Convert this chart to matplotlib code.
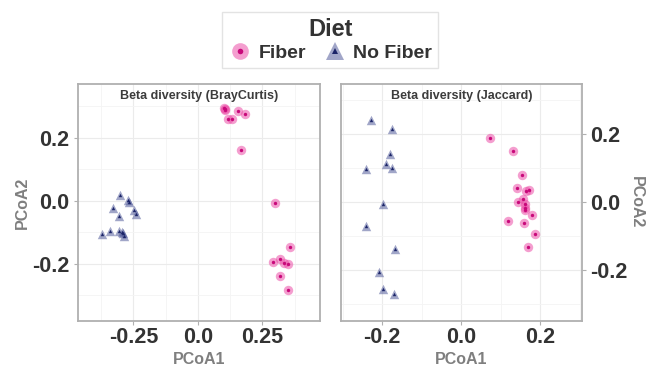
#PCoA beta diversity plot, two panels
import numpy as np
import matplotlib
matplotlib.use('Agg')
import matplotlib.pyplot as plt
from matplotlib.lines import Line2D

plt.rcParams['font.family'] = ['Liberation Sans', 'DejaVu Sans']

#BrayCurtis coordinates
bc_fiber_x = [0.099, 0.106, 0.103, 0.118, 0.133, 0.156, 0.182, 0.165, 0.297,
              0.355, 0.290, 0.316, 0.332, 0.349, 0.316, 0.350]
bc_fiber_y = [0.296, 0.290, 0.293, 0.259, 0.260, 0.284, 0.275, 0.160, -0.005,
              -0.146, -0.195, -0.185, -0.197, -0.200, -0.239, -0.284]
bc_nofiber_x = [-0.303, -0.271, -0.268, -0.329, -0.248, -0.242, -0.306,
                -0.371, -0.340, -0.306, -0.295, -0.291, -0.287]
bc_nofiber_y = [0.019, 0.002, -0.002, -0.024, -0.028, -0.042, -0.049,
                -0.104, -0.097, -0.097, -0.098, -0.102, -0.112]

#Jaccard coordinates
jc_fiber_x = [0.072, 0.132, 0.154, 0.141, 0.165, 0.173, 0.143, 0.156, 0.162,
              0.163, 0.163, 0.179, 0.118, 0.159, 0.188, 0.169]
jc_fiber_y = [0.187, 0.150, 0.078, 0.039, 0.031, 0.035, 0.000, 0.009, -0.008,
              -0.018, -0.024, -0.038, -0.057, -0.062, -0.094, -0.132]
jc_nofiber_x = [-0.229, -0.175, -0.179, -0.190, -0.176, -0.241, -0.197,
                -0.240, -0.168, -0.209, -0.197, -0.171]
jc_nofiber_y = [0.239, 0.214, 0.140, 0.110, 0.098, 0.096, -0.007,
                -0.071, -0.139, -0.208, -0.258, -0.273]

panel_titles = ['Beta diversity (BrayCurtis)', 'Beta diversity (Jaccard)']
groups = ['Fiber', 'No Fiber']

pink_out, pink_in = '#EC4FA8', '#C8097A'
navy_out, navy_in = '#555E9C', '#1B2468'
tick_col = '#333333'
lab_col = '#7F7F7F'

fig = plt.figure(figsize=(6.54, 3.73), dpi=100)
ax1 = fig.add_axes([0.1193, 0.1394, 0.370, 0.6354])
ax2 = fig.add_axes([0.5214, 0.1394, 0.3685, 0.6354])


def draw_points(ax, x, y, marker, c_out, c_in):
    ax.scatter(x, y, s=46, marker=marker, color=c_out, alpha=0.55,
               linewidths=0, zorder=3)
    ax.scatter(x, y, s=6, marker=marker, color=c_in, linewidths=0, zorder=4)


def style(ax, xmaj, xmin, ymaj, ymin, title):
    ax.set_xticks(xmaj)
    ax.set_xticks(xmin, minor=True)
    ax.set_yticks(ymaj)
    ax.set_yticks(ymin, minor=True)
    ax.grid(True, which='major', color='#EBEBEB', linewidth=0.8, zorder=0)
    ax.grid(True, which='minor', color='#F4F4F4', linewidth=0.6, zorder=0)
    ax.set_axisbelow(True)
    for s in ax.spines.values():
        s.set_color('#B0B0B0')
        s.set_linewidth(1.3)
    ax.tick_params(which='major', length=3, color='#B0B0B0', labelsize=15.5,
                   labelcolor=tick_col, pad=3)
    ax.tick_params(axis='x', which='major', pad=1.5)
    ax.tick_params(which='minor', length=0)
    ax.set_xlabel('PCoA1', fontsize=11.5, fontweight='bold', color=lab_col,
                  labelpad=3)
    ax.set_ylabel('PCoA2', fontsize=11.5, fontweight='bold', color=lab_col)
    ax.text(0.5, 0.975, title, transform=ax.transAxes, ha='center', va='top',
            fontsize=9, fontweight='bold', color='#3C3C3C')


draw_points(ax1, bc_nofiber_x, bc_nofiber_y, '^', navy_out, navy_in)
draw_points(ax1, bc_fiber_x, bc_fiber_y, 'o', pink_out, pink_in)
ax1.set_xlim(-0.465, 0.473)
ax1.set_ylim(-0.381, 0.371)
style(ax1, [-0.25, 0, 0.25], [-0.375, -0.125, 0.125, 0.375],
      [-0.2, 0, 0.2], [-0.3, -0.1, 0.1, 0.3], panel_titles[0])
ax1.set_xticklabels(['-0.25', '0.0', '0.25'], fontweight='bold')
ax1.set_yticklabels(['-0.2', '0.0', '0.2'], fontweight='bold')
ax1.yaxis.labelpad = 2

draw_points(ax2, jc_nofiber_x, jc_nofiber_y, '^', navy_out, navy_in)
draw_points(ax2, jc_fiber_x, jc_fiber_y, 'o', pink_out, pink_in)
ax2.set_xlim(-0.304, 0.306)
ax2.set_ylim(-0.351, 0.346)
ax2.yaxis.tick_right()
ax2.yaxis.set_label_position('right')
style(ax2, [-0.2, 0, 0.2], [-0.3, -0.1, 0.1, 0.3],
      [-0.2, 0, 0.2], [-0.3, -0.1, 0.1, 0.3], panel_titles[1])
ax2.set_xticklabels(['-0.2', '0.0', '0.2'], fontweight='bold')
ax2.set_yticklabels(['-0.2', '0.0', '0.2'], fontweight='bold')
ax2.yaxis.label.set_rotation(270)
ax2.yaxis.labelpad = 12

#legend
handles = [
    (Line2D([], [], marker='o', ls='', ms=12, color=pink_out, alpha=0.55, mew=0),
     Line2D([], [], marker='o', ls='', ms=4, color=pink_in, mew=0)),
    (Line2D([], [], marker='^', ls='', ms=13, color=navy_out, alpha=0.55, mew=0),
     Line2D([], [], marker='^', ls='', ms=4, color=navy_in, mew=0)),
]
leg = fig.legend(handles, groups, loc='upper center', bbox_to_anchor=(0.505, 0.968),
                 ncol=2, title='Diet', frameon=True, fancybox=False,
                 prop={'size': 14, 'weight': 'bold'}, handletextpad=0.35,
                 columnspacing=0.9, handlelength=1.2, borderpad=0.3,
                 labelspacing=0.2, borderaxespad=0)
leg.get_title().set_fontsize(17)
leg.get_title().set_fontweight('bold')
leg.get_title().set_color('#333333')
for t in leg.get_texts():
    t.set_color('#333333')
leg.get_frame().set_edgecolor('#DDDDDD')
leg.get_frame().set_linewidth(1.0)

plt.savefig('out.png', dpi=100)
